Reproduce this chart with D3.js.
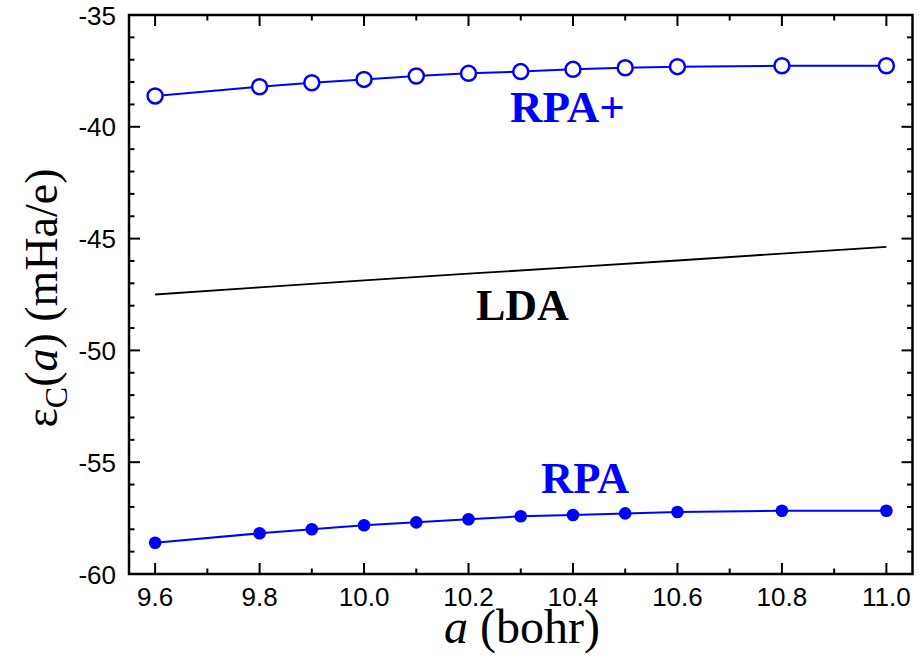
<!DOCTYPE html>
<html><head><meta charset="utf-8">
<script src="https://cdn.jsdelivr.net/npm/d3@7"></script>
<style>body{margin:0;background:#fff}</style>
</head><body>
<svg id="c" width="919" height="661"></svg>
<script>
const aValues = [9.6, 9.8, 9.9, 10.0, 10.1, 10.2, 10.3, 10.4, 10.5, 10.6, 10.8, 11.0];
const rpaPlus = [-38.62, -38.21, -38.03, -37.88, -37.73, -37.61, -37.53, -37.43, -37.36, -37.31, -37.27, -37.27];
const rpa = [-58.60, -58.18, -58.00, -57.82, -57.69, -57.55, -57.42, -57.36, -57.29, -57.23, -57.17, -57.17];
const ldaA = [9.6, 9.8, 10.0, 10.2, 10.4, 10.6, 10.8, 11.0];
const lda = [-47.50, -47.18, -46.87, -46.57, -46.28, -45.98, -45.67, -45.37];
const xTicks = [9.6, 9.8, 10.0, 10.2, 10.4, 10.6, 10.8, 11.0];
const yTicks = [-60, -55, -50, -45, -40, -35];

const svg = d3.select("#c");
const L = 129, R = 912.5, T = 15, B = 574;
const x = d3.scaleLinear().domain([9.55, 11.05]).range([L, R]);
const y = d3.scaleLinear().domain([-60, -35]).range([B, T]);

const xMinor = d3.range(96, 111).map(d => d / 10);
const yMinor = d3.range(-60, -34);

// ticks (inward) on all four sides
const tickG = svg.append("g").attr("stroke", "#000").attr("stroke-width", 2);
xMinor.forEach(v => {
  const major = xTicks.some(t => Math.abs(t - v) < 1e-9);
  const len = major ? 11 : 5.5;
  tickG.append("line").attr("x1", x(v)).attr("x2", x(v)).attr("y1", B).attr("y2", B - len);
  tickG.append("line").attr("x1", x(v)).attr("x2", x(v)).attr("y1", T).attr("y2", T + len);
});
yMinor.forEach(v => {
  const major = yTicks.includes(v);
  const len = major ? 11 : 5.5;
  tickG.append("line").attr("y1", y(v)).attr("y2", y(v)).attr("x1", L).attr("x2", L + len);
  tickG.append("line").attr("y1", y(v)).attr("y2", y(v)).attr("x1", R).attr("x2", R - len);
});

svg.append("rect").attr("x", L).attr("y", T).attr("width", R - L).attr("height", B - T)
  .attr("fill", "none").attr("stroke", "#000").attr("stroke-width", 2.5);

// tick labels
const lab = svg.append("g").attr("font-family", "Liberation Sans, Arial, sans-serif").attr("font-size", 26).attr("fill", "#000");
xTicks.forEach(v => lab.append("text").attr("x", x(v)).attr("y", 606).attr("text-anchor", "middle").text(v.toFixed(1)));
yTicks.forEach(v => lab.append("text").attr("x", 116).attr("y", y(v) + 9.5).attr("text-anchor", "end").text(v));

// lines
const line = d3.line().x(d => x(d[0])).y(d => y(d[1]));
svg.append("path").datum(ldaA.map((a, i) => [a, lda[i]])).attr("d", line)
  .attr("fill", "none").attr("stroke", "#000").attr("stroke-width", 1.8);
svg.append("path").datum(aValues.map((a, i) => [a, rpaPlus[i]])).attr("d", line)
  .attr("fill", "none").attr("stroke", "#0000ff").attr("stroke-width", 2);
svg.append("path").datum(aValues.map((a, i) => [a, rpa[i]])).attr("d", line)
  .attr("fill", "none").attr("stroke", "#0000ff").attr("stroke-width", 2);

svg.append("g").selectAll("circle").data(aValues.map((a, i) => [a, rpaPlus[i]])).join("circle")
  .attr("cx", d => x(d[0])).attr("cy", d => y(d[1])).attr("r", 7.5)
  .attr("fill", "#fff").attr("stroke", "#0000ff").attr("stroke-width", 2.5);
svg.append("g").selectAll("circle").data(aValues.map((a, i) => [a, rpa[i]])).join("circle")
  .attr("cx", d => x(d[0])).attr("cy", d => y(d[1])).attr("r", 6.3)
  .attr("fill", "#0000ff");

// series labels
const serif = "Liberation Serif, Times New Roman, serif";
svg.append("text").attr("x", 510).attr("y", 122).attr("font-family", serif).attr("font-weight", "bold")
  .attr("font-size", 45).attr("fill", "#0000ff").text("RPA+");
svg.append("text").attr("x", 476).attr("y", 320).attr("font-family", serif).attr("font-weight", "bold")
  .attr("font-size", 44).attr("fill", "#000").text("LDA");
svg.append("text").attr("x", 541).attr("y", 493).attr("font-family", serif).attr("font-weight", "bold")
  .attr("font-size", 44.5).attr("fill", "#0000ff").text("RPA");

// axis titles
const xt = svg.append("text").attr("x", 522).attr("y", 643).attr("text-anchor", "middle")
  .attr("font-family", serif).attr("font-size", 48).attr("fill", "#000");
xt.append("tspan").attr("font-style", "italic").text("a");
xt.append("tspan").text(" (bohr)");

const yt = svg.append("text").attr("transform", "translate(57,298) rotate(-90)").attr("text-anchor", "middle")
  .attr("font-family", serif).attr("font-size", 46).attr("fill", "#000");
yt.append("tspan").text("ε");
yt.append("tspan").attr("font-size", 32).attr("dy", 10).text("C");
yt.append("tspan").attr("dy", -10).text("(");
yt.append("tspan").attr("font-style", "italic").text("a");
yt.append("tspan").text(") (mHa/e)");
</script>
</body></html>
